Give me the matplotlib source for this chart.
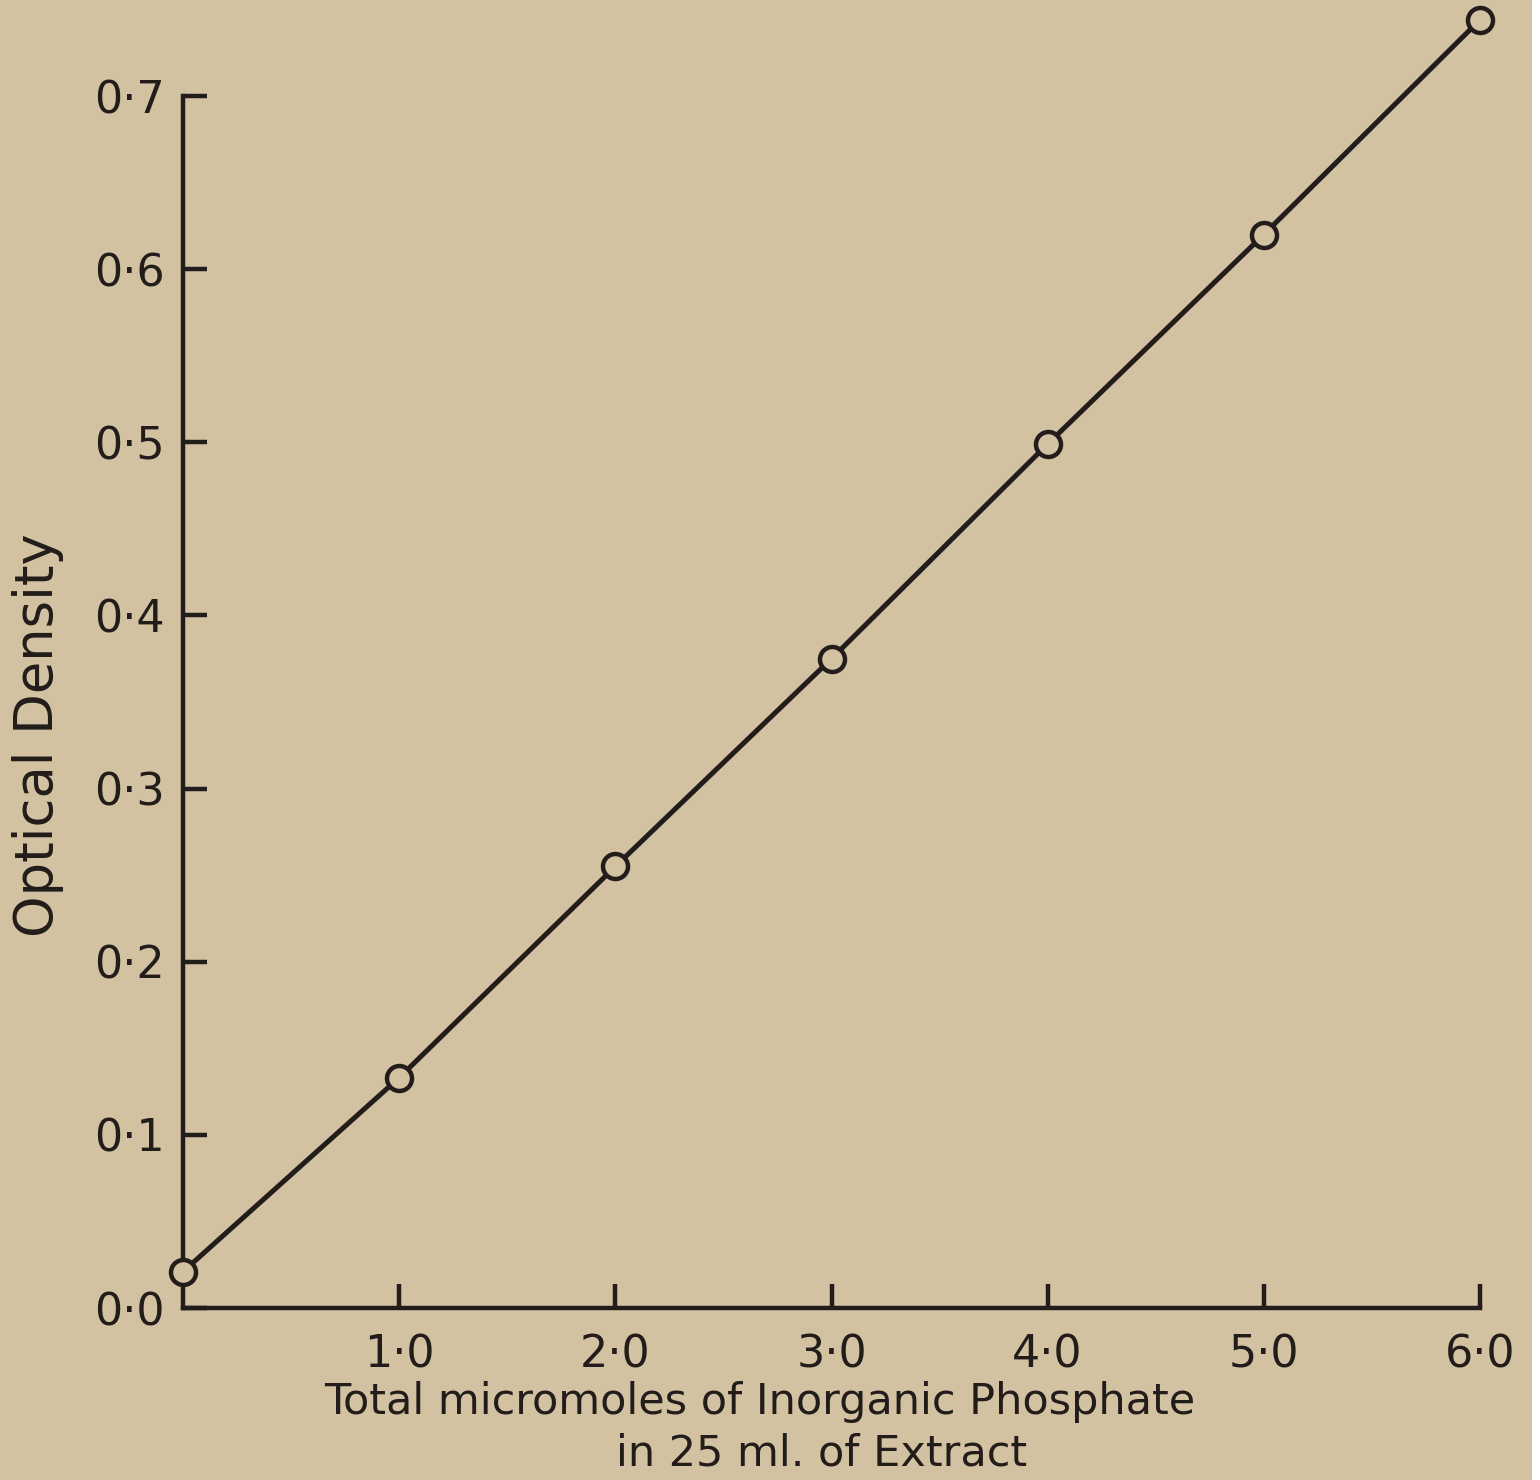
import matplotlib
matplotlib.use('Agg')
import matplotlib.pyplot as plt
from matplotlib.patches import Rectangle

# data
phosphate = [0.0, 1.0, 2.0, 3.0, 4.0, 5.0, 6.0]
optical_density = [0.021, 0.133, 0.255, 0.375, 0.499, 0.620, 0.744]

x_ticks = [1, 2, 3, 4, 5, 6]
x_tick_labels = ['1·0', '2·0', '3·0', '4·0', '5·0', '6·0']
y_ticks = [0.0, 0.1, 0.2, 0.3, 0.4, 0.5, 0.6, 0.7]
y_tick_labels = ['0·0', '0·1', '0·2', '0·3', '0·4', '0·5', '0·6', '0·7']

paper = '#d3c2a2'
ink = '#221d1a'

plt.rcParams['font.family'] = ['DejaVu Sans']

fig = plt.figure(figsize=(15.4, 14.8), dpi=100)
fig.patch.set_facecolor(paper)
ax = fig.add_axes([183 / 1540, 1 - 1308 / 1480, 1297 / 1540, 1212 / 1480])
ax.set_facecolor(paper)

ax.plot(phosphate, optical_density, color=ink, lw=3.6, marker='o', markersize=18,
        markerfacecolor=paper, markeredgecolor=ink, markeredgewidth=3.2,
        clip_on=False, zorder=5)

ax.set_xlim(0, 6)
ax.set_ylim(0, 0.7)
for s in ['top', 'right']:
    ax.spines[s].set_visible(False)
for s in ['left', 'bottom']:
    ax.spines[s].set_linewidth(3.2)
    ax.spines[s].set_color(ink)

ax.set_xticks(x_ticks)
ax.set_xticklabels(x_tick_labels)
ax.set_yticks(y_ticks)
ax.set_yticklabels(y_tick_labels)
ax.tick_params(axis='both', direction='in', length=17, width=3.2, color=ink,
               labelsize=32, labelcolor=ink)
ax.tick_params(axis='x', pad=18)
ax.tick_params(axis='y', pad=13)

# two-line x label, second line sits right of centre as in the original
fig.text(760 / 1540, 1 - 1402 / 1480, 'Total micromoles of Inorganic Phosphate',
         ha='center', va='center', fontsize=31, color=ink)
fig.text(822 / 1540, 1 - 1454 / 1480, 'in 25 ml. of Extract',
         ha='center', va='center', fontsize=31, color=ink)
fig.text(38 / 1540, 1 - 735 / 1480, 'Optical Density', rotation=90,
         ha='center', va='center', fontsize=38, color=ink)

# white scan edge on the right
fig.patches.append(Rectangle((1532 / 1540, 0), 8 / 1540, 1, transform=fig.transFigure,
                             facecolor='white', edgecolor='none'))

fig.savefig('out.png', dpi=100, facecolor=paper)
